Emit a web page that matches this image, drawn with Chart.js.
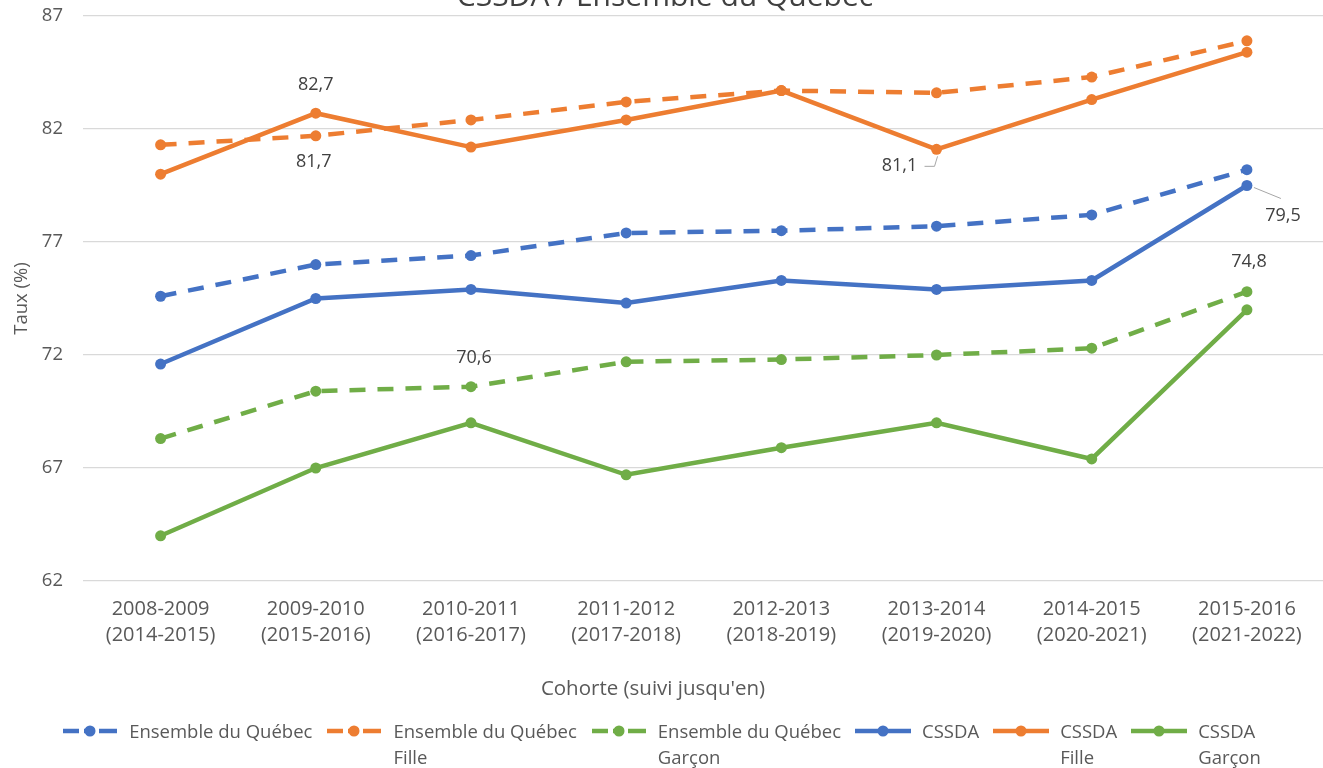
<!DOCTYPE html>
<html>
<head>
<meta charset="utf-8">
<script src="https://cdn.jsdelivr.net/npm/chart.js@4.4.1/dist/chart.umd.min.js"></script>
<style>
  html, body { margin: 0; padding: 0; background: #ffffff; overflow: hidden; }
  body { width: 1323px; height: 768px; position: relative; font-family: "Open Sans", "Noto Sans", sans-serif; }
  #wrap { position: absolute; left: 0; top: -21px; width: 1330px; height: 745px; }
  #xtitle { position: absolute; left: 353px; width: 600px; top: 674px; text-align: center; font-size: 20.5px; line-height: 26px; color: #595959; }
  #legend { position: absolute; left: 0; top: 718px; width: 1323px; display: flex; justify-content: center; gap: 14px; font-size: 18.5px; line-height: 26px; color: #595959; }
  .item { display: flex; align-items: flex-start; }
  .item canvas { margin-right: 11px; }
</style>
</head>
<body>
<div id="wrap"><canvas id="c" width="1330" height="745"></canvas></div>
<div id="xtitle">Cohorte (suivi jusqu'en)</div>
<div id="legend"></div>
<script>
// ---- Data ----
const categories = [
  ['2008-2009', '(2014-2015)'],
  ['2009-2010', '(2015-2016)'],
  ['2010-2011', '(2016-2017)'],
  ['2011-2012', '(2017-2018)'],
  ['2012-2013', '(2018-2019)'],
  ['2013-2014', '(2019-2020)'],
  ['2014-2015', '(2020-2021)'],
  ['2015-2016', '(2021-2022)']
];
const ensembleQuebec        = [74.6, 76.0, 76.4, 77.4, 77.5, 77.7, 78.2, 80.2];
const ensembleQuebecFille   = [81.3, 81.7, 82.4, 83.2, 83.7, 83.6, 84.3, 85.9];
const ensembleQuebecGarcon  = [68.3, 70.4, 70.6, 71.7, 71.8, 72.0, 72.3, 74.8];
const cssda                 = [71.6, 74.5, 74.9, 74.3, 75.3, 74.9, 75.3, 79.5];
const cssdaFille            = [80.0, 82.7, 81.2, 82.4, 83.7, 81.1, 83.3, 85.4];
const cssdaGarcon           = [64.0, 67.0, 69.0, 66.7, 67.9, 69.0, 67.4, 74.0];
const seriesNames = [
  ['Ensemble du Québec'], ['Ensemble du Québec', 'Fille'], ['Ensemble du Québec', 'Garçon'],
  ['CSSDA'], ['CSSDA', 'Fille'], ['CSSDA', 'Garçon']
];
const yTicks = [62, 67, 72, 77, 82, 87];

// ---- Styles ----
const BLUE = '#4472C4', ORANGE = '#ED7D31', GREEN = '#70AD47';
const FONT = '"Open Sans", "Noto Sans", sans-serif';
const DASH = [16, 12];

function ds(name, data, color, dashed) {
  return {
    label: name.join(' '),
    names: name,
    data: data,
    borderColor: color,
    backgroundColor: color,
    pointBackgroundColor: color,
    pointBorderColor: color,
    pointRadius: 5.5,
    pointBorderWidth: 0,
    borderWidth: 4.5,
    borderDash: dashed ? DASH : [],
    tension: 0,
    order: dashed ? 2 : 1
  };
}

// Data labels: which dataset, which index, placement
const dataLabels = [
  { ds: 4, i: 1, dx: 0,  dy: -28 },
  { ds: 1, i: 1, dx: -2, dy: 26 },
  { ds: 2, i: 2, dx: 3,  dy: -29 },
  { ds: 4, i: 5, dx: -37, dy: 17, leader: 'left' },
  { ds: 3, i: 7, dx: 36, dy: 30, leader: 'right' },
  { ds: 2, i: 7, dx: 2,  dy: -30 }
];

const labelPlugin = {
  id: 'dataLabelsCustom',
  afterDatasetsDraw(chart) {
    const ctx = chart.ctx;
    ctx.save();
    ctx.font = '18px ' + FONT;
    ctx.fillStyle = '#404040';
    ctx.textAlign = 'center';
    ctx.textBaseline = 'middle';
    dataLabels.forEach(l => {
      const pt = chart.getDatasetMeta(l.ds).data[l.i];
      const v = chart.data.datasets[l.ds].data[l.i];
      const txt = v.toFixed(1).replace('.', ',');
      const x = pt.x + l.dx, y = pt.y + l.dy;
      ctx.fillText(txt, x, y);
      if (l.leader) {
        ctx.strokeStyle = '#a6a6a6';
        ctx.lineWidth = 1;
        ctx.beginPath();
        if (l.leader === 'left') {
          ctx.moveTo(x + 25, y);
          ctx.lineTo(pt.x - 2, y);
          ctx.lineTo(pt.x + 1, pt.y + 7);
        } else {
          ctx.moveTo(pt.x + 7, pt.y + 2);
          ctx.lineTo(x - 2, y - 17);
        }
        ctx.stroke();
      }
    });
    ctx.restore();
  }
};

const datasets = [
  ds(seriesNames[0], ensembleQuebec, BLUE, true),
  ds(seriesNames[1], ensembleQuebecFille, ORANGE, true),
  ds(seriesNames[2], ensembleQuebecGarcon, GREEN, true),
  ds(seriesNames[3], cssda, BLUE, false),
  ds(seriesNames[4], cssdaFille, ORANGE, false),
  ds(seriesNames[5], cssdaGarcon, GREEN, false)
];

const chart = new Chart(document.getElementById('c'), {
  type: 'line',
  data: { labels: categories, datasets: datasets },
  plugins: [labelPlugin],
  options: {
    responsive: false,
    animation: false,
    layout: { padding: 0 },
    plugins: {
      legend: { display: false },
      tooltip: { enabled: false },
      title: {
        display: true,
        text: 'CSSDA / Ensemble du Québec',
        color: '#404040',
        font: { family: FONT, size: 30, weight: 'normal' },
        padding: { top: 0, bottom: 1 }
      }
    },
    scales: {
      x: {
        offset: true,
        grid: { display: false },
        border: { display: false },
        ticks: { color: '#595959', font: { family: FONT, size: 20, lineHeight: 1.27 }, padding: 8, maxRotation: 0, autoSkip: false },
        afterFit(scale) { scale.height = 143; }
      },
      y: {
        min: 62, max: 87,
        afterBuildTicks(scale) { scale.ticks = yTicks.map(v => ({ value: v })); },
        grid: { color: '#d9d9d9', lineWidth: 1.3, drawTicks: false },
        border: { display: false },
        ticks: { color: '#595959', font: { family: FONT, size: 18.5 }, padding: 20 },
        title: { display: true, text: 'Taux (%)', color: '#595959', font: { family: FONT, size: 18.5 }, padding: { top: 11, bottom: 0 } },
        afterFit(scale) { scale.width = 83; }
      }
    }
  }
});

// ---- HTML legend built from the chart's datasets ----
const legend = document.getElementById('legend');
chart.data.datasets.forEach(d => {
  const item = document.createElement('div');
  item.className = 'item';
  const cv = document.createElement('canvas');
  cv.width = 56; cv.height = 26;
  const g = cv.getContext('2d');
  g.strokeStyle = d.borderColor; g.fillStyle = d.borderColor; g.lineWidth = 4.5;
  g.beginPath();
  if (d.borderDash.length) {
    g.moveTo(1, 13); g.lineTo(17, 13);
    g.moveTo(37, 13); g.lineTo(55, 13);
    g.moveTo(22, 13); g.lineTo(33, 13);
  } else {
    g.moveTo(0, 13); g.lineTo(56, 13);
  }
  g.stroke();
  g.beginPath(); g.arc(28, 13, 5.5, 0, Math.PI * 2); g.fill();
  item.appendChild(cv);
  const t = document.createElement('div');
  t.innerHTML = d.names.join('<br>');
  item.appendChild(t);
  legend.appendChild(item);
});
</script>
</body>
</html>
